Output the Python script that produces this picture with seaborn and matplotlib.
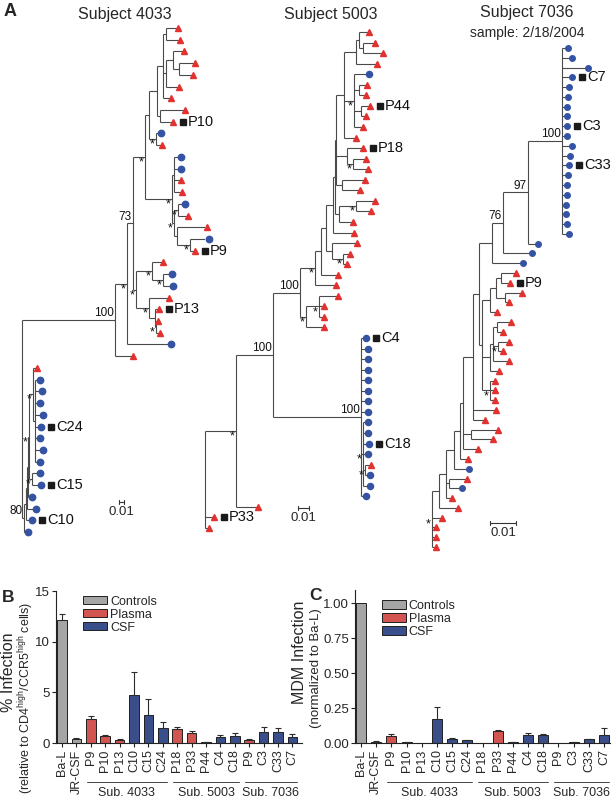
import matplotlib
matplotlib.use("Agg")
import matplotlib.pyplot as plt
import matplotlib.transforms as mtrans
from matplotlib.lines import Line2D
import numpy as np
import pandas as pd
import seaborn as sns

# ---------------- data ----------------
# panel A: neighbour-joining trees as newick, branch lengths in drawing units
# leaf "t" = plasma clone (triangle), "c" = CSF clone (circle), "|xx" = cloned env
TREE_4033 = (
    "(((("
    "(((((t:12,t:14):3,((t:11,(t:16,t:14):6):7,t:13):3,t:8):6,(t:25,t|P10:13):3):8,(c:5,t:6)*:7):4,"
    "((c:7,c:7,t:7,t:8):2,((c:7,t:10)*:4,(t:30,(c:19,t|P9:5)*:13):3)*:2)*:27)*:12,"
    "((t:11,(c:9,c:10)*:11)*:16,(t:20,(t|P13:4,(t:2,t:4)*:1):6)*:13)*:3"
    ")73:6,c:44)*:12,t:18)100:93,"
    "((((((t:4,(c:5,c:7,c:5,c:8,c|C24:6,c:5,c:8,c:5):2)*:4,(c:8,c|C15:9)*:3)*:1,c:4):1,c:9):1,"
    "c|C10:6):2,c:4)80:2"
    ");"
)
TREE_5003 = (
    "((((((((((("
    "((t:10,(t:12,t:20):4):3,t:21):12,"
    "(c:15,(t:8,t:7):5,(t|P44:9,t:5):7,t:9)*:10,t:12):8,"
    "(t|P18:16,(t:13,t:15)*:6):11,(t:23,t:18):6):1,"
    "((t:19,t:15)*:17,t:14):4):2,"
    "t:21):7,"
    "(t:25,(t:7,t:4)*:11):6):5,"
    "t:17):6,"
    "t:21)*:15,"
    "((t:19,t:5,t:5)*:13,t:18)*:6)100:27,"
    "(c|C4:5,c:7,c:7,c:7,c:7,c:7,c:7,c:7,(c:5,c:5,c|C18:6,c:5,(t:6,c:5)*:2,c:7)*:2,c:5)100:88)100:37,"
    "t:22)*:31,"
    "t|P33:9,t:4);"
)
TREE_7036 = (
    "((((((((((("
    "(c:6,c:10,c:26,c|C7:10,c:7,c:6,c:5,c:5,c|C3:5,c:5,c:10,c:8,c|C33:7,c:6,c:5,c:5,c:4,c:4,c:5,c:7)100:34,"
    "c:10)97:25,c:29)76:11,c:31):13,"
    "((((t:15,t|P9:9):5,(t:17,t:4):9):6,t:7):8,"
    "(((t:14,t:6):4,(t:11,t:5)*:5,t:16):3,t:9):8,"
    "(t:5,t:5,t:5)*:8):3):6,"
    "t:23,t:12):10,"
    "(t:27,t:22):8,t:15):3,"
    "t:8):6,"
    "c:15):8,"
    "(t:18,c:13):3,t:6):7,"
    "t:19):7,"
    "t:10,t:4,t:4,t:4)*;"
)
tree_titles = ["Subject 4033", "Subject 5003", "Subject 7036"]
scale_0_01 = [5, 11, 26]  # drawing units for 0.01 substitutions

# panels B and C
samples = ["Ba-L", "JR-CSF", "P9", "P10", "P13", "C10", "C15", "C24",
           "P18", "P33", "P44", "C4", "C18", "P9", "C3", "C33", "C7"]
groups = ["Controls", "Controls", "Plasma", "Plasma", "Plasma", "CSF", "CSF", "CSF",
          "Plasma", "Plasma", "Plasma", "CSF", "CSF", "Plasma", "CSF", "CSF", "CSF"]
pct_infection = [12.15, 0.38, 2.35, 0.68, 0.32, 4.7, 2.8, 1.46,
                 1.4, 1.02, 0.1, 0.6, 0.72, 0.34, 1.05, 1.08, 0.62]
pct_err = [0.6, 0.1, 0.33, 0.07, 0.06, 2.3, 1.5, 0.62,
           0.2, 0.16, 0.03, 0.2, 0.23, 0.08, 0.5, 0.37, 0.23]
mdm_infection = [1.0, 0.008, 0.05, 0.006, 0.0, 0.175, 0.028, 0.019,
                 0.0, 0.088, 0.006, 0.06, 0.055, 0.0, 0.007, 0.028, 0.055]
mdm_err = [0.0, 0.004, 0.015, 0.003, 0.0, 0.08, 0.006, 0.004,
           0.0, 0.007, 0.003, 0.011, 0.008, 0.0, 0.003, 0.004, 0.05]
sub_labels = ["Sub. 4033", "Sub. 5003", "Sub. 7036"]
sub_start = [2, 8, 13]
sub_end = [7, 12, 16]

RED = "#e2312f"
BLUE = "#3553a3"
LINE = "#4a4a4a"
palette = {"Controls": "#a5a5a5", "Plasma": "#e8403d", "CSF": "#2c4898"}


# ---------------- helpers ----------------
def parse_newick(s):
    pos = 0

    def node():
        nonlocal pos
        children = []
        if s[pos] == "(":
            pos += 1
            children.append(node())
            while s[pos] == ",":
                pos += 1
                children.append(node())
            pos += 1
        start = pos
        while s[pos] not in ",():;":
            pos += 1
        name = s[start:pos]
        length = 0.0
        if s[pos] == ":":
            pos += 1
            start = pos
            while s[pos] not in ",();":
                pos += 1
            length = float(s[start:pos])
        return {"name": name, "len": length, "children": children}

    return node()


def layout(tree):
    leaves = []

    def walk(n, x):
        n["x"] = x + n["len"]
        if n["children"]:
            for ch in n["children"]:
                walk(ch, n["x"])
            n["y"] = (n["children"][0]["y"] + n["children"][-1]["y"]) / 2
        else:
            n["y"] = len(leaves)
            leaves.append(n)

    walk(tree, 0.0)
    return leaves


def draw_tree(ax, fig, tree, ms):
    leaves = layout(tree)

    def walk(n):
        if not n["children"]:
            return
        ys = [c["y"] for c in n["children"]]
        ax.plot([n["x"], n["x"]], [ys[0], ys[-1]], color=LINE, lw=0.8, solid_capstyle="butt")
        for c in n["children"]:
            ax.plot([n["x"], c["x"]], [c["y"], c["y"]], color=LINE, lw=0.8, solid_capstyle="butt")
            walk(c)
        if n["name"]:
            star = n["name"] == "*"
            ax.annotate(n["name"], (n["x"], n["y"]), xytext=(-1, -4 if star else 0.5),
                        textcoords="offset points", ha="right",
                        va="center" if star else "bottom",
                        fontsize=9 if star else 8.5, color="#111111")

    walk(tree)

    for kind, marker, col in [("t", "^", RED), ("c", "o", BLUE)]:
        sel = [l for l in leaves if l["name"].split("|")[0] == kind]
        ax.plot([l["x"] for l in sel], [l["y"] for l in sel], ls="none", marker=marker,
                ms=ms, color=col, mec=col, clip_on=False, zorder=3)

    sq_tr = mtrans.offset_copy(ax.transData, fig=fig, x=10, y=0, units="dots")
    tx_tr = mtrans.offset_copy(ax.transData, fig=fig, x=15, y=0, units="dots")
    for l in leaves:
        if "|" in l["name"]:
            lab = l["name"].split("|")[1]
            ax.plot([l["x"]], [l["y"]], marker="s", ms=4.6, color="#1a1a1a",
                    transform=sq_tr, clip_on=False)
            ax.text(l["x"], l["y"], lab, transform=tx_tr, ha="left", va="center",
                    fontsize=10.5, color="#111111")
    return leaves


# ---------------- figure ----------------
sns.set_style("ticks")
plt.rcParams["font.family"] = ["Liberation Sans", "DejaVu Sans"]
plt.rcParams["mathtext.fontset"] = "custom"
plt.rcParams["mathtext.rm"] = "Liberation Sans"
plt.rcParams["mathtext.it"] = "Liberation Sans:italic"

W, H = 615, 800
fig = plt.figure(figsize=(W / 100, H / 100), dpi=100)
px = mtrans.Affine2D().scale(1 / W, -1 / H).translate(0, 1) + fig.transFigure

# panel A layout (pixels)
tree_cfg = [
    dict(newick=TREE_4033, cols=(0, 205), root=22, y0=28, y1=532, bar=(119, 502), title=(125, 15), ms=4.6),
    dict(newick=TREE_5003, cols=(200, 410), root=205, y0=32, y1=528, bar=(298, 508), title=(331, 14), ms=4.4),
    dict(newick=TREE_7036, cols=(410, 615), root=432, y0=48, y1=547, bar=(490, 523), title=(527, 13), ms=4.0),
]
A_BOTTOM = 580
for cfg, title, bar_len in zip(tree_cfg, tree_titles, scale_0_01):
    c0, c1 = cfg["cols"]
    ax = fig.add_axes([c0 / W, 1 - A_BOTTOM / H, (c1 - c0) / W, A_BOTTOM / H])
    ax.axis("off")
    tree = parse_newick(cfg["newick"])
    leaves = draw_tree(ax, fig, tree, cfg["ms"])
    s = (cfg["y1"] - cfg["y0"]) / (len(leaves) - 1)
    ax.set_xlim(c0 - cfg["root"], c1 - cfg["root"])
    ax.set_ylim((A_BOTTOM - cfg["y0"]) / s, -cfg["y0"] / s)

    fig.text(cfg["title"][0], cfg["title"][1], title, transform=px, ha="center",
             va="center", fontsize=11.5)
    bx, by = cfg["bar"]
    fig.add_artist(Line2D([bx, bx + bar_len], [by, by], transform=px, color="#333333", lw=0.8))
    for xe in (bx, bx + bar_len):
        fig.add_artist(Line2D([xe, xe], [by - 2, by + 2], transform=px, color="#333333", lw=0.8))
    fig.text(bx + bar_len / 2, by + 4, "0.01", transform=px, ha="center", va="top", fontsize=9.5)

fig.text(527, 33, "sample: 2/18/2004", transform=px, ha="center", va="center", fontsize=10)
fig.text(4, 12, "A", transform=px, ha="left", va="center", fontsize=13, fontweight="bold")

# panels B and C
df = pd.DataFrame({
    "slot": [str(i) for i in range(len(samples))],
    "sample": samples,
    "group": groups,
    "pct": pct_infection,
    "pct_err": pct_err,
    "mdm": mdm_infection,
    "mdm_err": mdm_err,
})


def bar_panel(rect, col, err_col, xlim, ylim, yticks, ytick_fmt, leg_anchor):
    ax = fig.add_axes(rect)
    sns.barplot(data=df, x="slot", y=col, hue="group",
                hue_order=["Controls", "Plasma", "CSF"], palette=palette,
                dodge=False, width=0.66, edgecolor="#1f1f1f", linewidth=0.7,
                errorbar=None, ax=ax)
    xs = np.arange(len(df))
    m = df[err_col].to_numpy() > 0
    ax.errorbar(xs[m], df[col].to_numpy()[m],
                yerr=[np.zeros(m.sum()), df[err_col].to_numpy()[m]],
                fmt="none", ecolor="#2b2b2b", elinewidth=0.8, capsize=2.2,
                capthick=0.8, zorder=3)
    ax.set_xlim(*xlim)
    ax.set_ylim(*ylim)
    ax.set_xticks(xs)
    ax.set_xticklabels(samples, rotation=90, fontsize=9)
    ax.set_yticks(yticks)
    ax.set_yticklabels([ytick_fmt.format(v) for v in yticks], fontsize=9.5)
    ax.set_xlabel("")
    ax.set_ylabel("")
    ax.tick_params(axis="both", direction="out", length=3, width=0.8, color="#222222", pad=1.5)
    for sp in ("left", "bottom"):
        ax.spines[sp].set_linewidth(0.8)
        ax.spines[sp].set_color("#222222")
    sns.despine(ax=ax)

    handles, labels = ax.get_legend_handles_labels()
    ax.legend(handles, labels, loc="upper left", bbox_to_anchor=leg_anchor, frameon=False,
              fontsize=9, handlelength=1.9, handleheight=0.65, labelspacing=0.08,
              handletextpad=0.25, borderaxespad=0, borderpad=0)

    tr = mtrans.blended_transform_factory(ax.transData, ax.transAxes)
    for lab, s0, s1 in zip(sub_labels, sub_start, sub_end):
        ax.plot([s0 - 0.3, s1 + 0.3], [-0.257, -0.257], transform=tr, color="#444444",
                lw=0.7, clip_on=False)
        ax.text((s0 + s1) / 2, -0.33, lab, transform=tr, ha="center", va="center", fontsize=9)
    return ax


bar_panel([56 / W, 57 / H, 246 / W, 152 / H], "pct", "pct_err",
          (-0.42, 16.67), (0, 15), [0, 5, 10, 15], "{:g}", (0.11, 0.97))
bar_panel([355 / W, 57 / H, 255 / W, 153 / H], "mdm", "mdm_err",
          (-0.39, 16.39), (0, 1.093), [0, 0.25, 0.5, 0.75, 1.0], "{:.2f}", (0.105, 0.935))

fig.text(2, 597, "B", transform=px, ha="left", va="center", fontsize=12.5, fontweight="bold")
fig.text(309, 595, "C", transform=px, ha="left", va="center", fontsize=12.5, fontweight="bold")
fig.text(8.5, 672, "% Infection", transform=px, rotation=90, ha="center", va="center", fontsize=11.5)
fig.text(26, 698, r"(relative to CD4$^{\mathrm{high}}$/CCR5$^{\mathrm{high}}$ cells)", transform=px,
         rotation=90, ha="center", va="center", fontsize=9)
fig.text(300, 652, "MDM Infection", transform=px, rotation=90, ha="center", va="center", fontsize=11.5)
fig.text(316, 668, "(normalized to Ba-L)", transform=px, rotation=90, ha="center", va="center",
         fontsize=9.5)

fig.savefig("out.png", dpi=100)
